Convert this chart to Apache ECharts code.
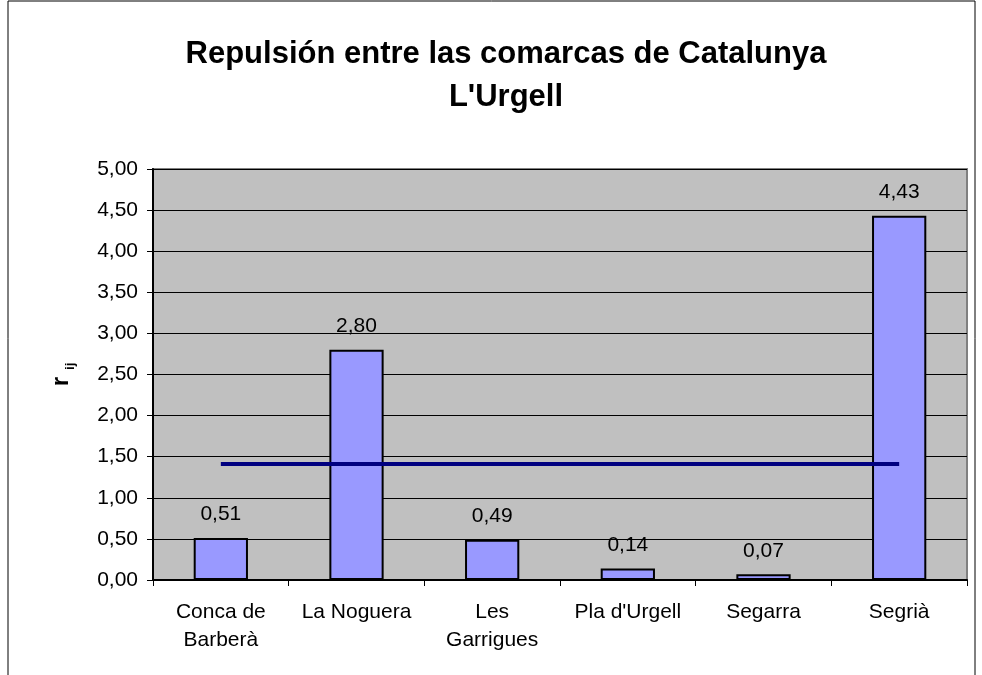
<!DOCTYPE html>
<html>
<head>
<meta charset="utf-8">
<script src="https://cdn.jsdelivr.net/npm/echarts@6/dist/echarts.min.js"></script>
<style>
  html, body { margin: 0; padding: 0; background: #fff; }
  #chart { width: 982px; height: 675px; }
</style>
</head>
<body>
<div id="chart"></div>
<script>
const comarcas = ['Conca de\nBarberà', 'La Noguera', 'Les\nGarrigues', "Pla d'Urgell", 'Segarra', 'Segrià']
const repulsion = [0.51, 2.80, 0.49, 0.14, 0.07, 4.43]
const media = [1.41, 1.41, 1.41, 1.41, 1.41, 1.41]

const fmt = v => v.toFixed(2).replace('.', ',')
const font = 'Liberation Sans, Arial, sans-serif'

const myecharts = echarts.init(document.getElementById('chart'))
const option = {
    backgroundColor: '#fff',
    animation: false,
    title: {
        text: "Repulsión entre las comarcas de Catalunya\nL'Urgell",
        left: 501,
        textAlign: 'center',
        top: 28,
        textStyle: {
            fontFamily: font,
            fontSize: 31,
            fontWeight: 'bold',
            color: '#000',
            lineHeight: 43
        }
    },
    graphic: [{
        type: 'rect',
        shape: { x: 8, y: 1, width: 967, height: 720 },
        style: { fill: 'none', stroke: '#000', lineWidth: 1 },
        silent: true
    }],
    grid: {
        left: 153,
        right: 15,
        top: 169,
        bottom: 95,
        show: true,
        backgroundColor: '#c0c0c0',
        borderColor: '#808080',
        borderWidth: 2
    },
    xAxis: {
        type: 'category',
        data: comarcas,
        axisLine: { lineStyle: { color: '#000', width: 2 } },
        axisTick: { show: true, length: 6, lineStyle: { color: '#000' } },
        axisLabel: {
            fontFamily: font,
            fontSize: 21,
            color: '#000',
            margin: 18,
            lineHeight: 28,
            interval: 0
        }
    },
    yAxis: {
        type: 'value',
        min: 0,
        max: 5,
        interval: 0.5,
        name: '{r|r}{ij|ij}',
        nameLocation: 'middle',
        nameGap: 80,
        nameRotate: 90,
        nameTextStyle: {
            rich: {
                r: { fontFamily: font, fontSize: 24, fontWeight: 'bold', color: '#000', lineHeight: 24, verticalAlign: 'top' },
                ij: { fontFamily: font, fontSize: 13, fontWeight: 'bold', color: '#000', lineHeight: 13, padding: [18, 0, 0, 7] }
            }
        },
        axisLine: { show: true, lineStyle: { color: '#000', width: 2 } },
        axisTick: { show: true, length: 6, lineStyle: { color: '#000' } },
        axisLabel: {
            fontFamily: font,
            fontSize: 21,
            color: '#000',
            margin: 15,
            formatter: fmt
        },
        splitLine: { lineStyle: { color: '#000', width: 1 } }
    },
    series: [{
        type: 'bar',
        data: repulsion,
        barWidth: '40%',
        itemStyle: { color: '#9999ff', borderColor: '#000', borderWidth: 2 },
        label: {
            show: true,
            position: 'top',
            distance: 13,
            fontFamily: font,
            fontSize: 21,
            color: '#000',
            formatter: p => fmt(p.value)
        },
        z: 2
    }, {
        type: 'line',
        data: media,
        showSymbol: false,
        lineStyle: { color: '#000080', width: 4 },
        z: 3
    }]
}
myecharts.setOption(option)
</script>
</body>
</html>
